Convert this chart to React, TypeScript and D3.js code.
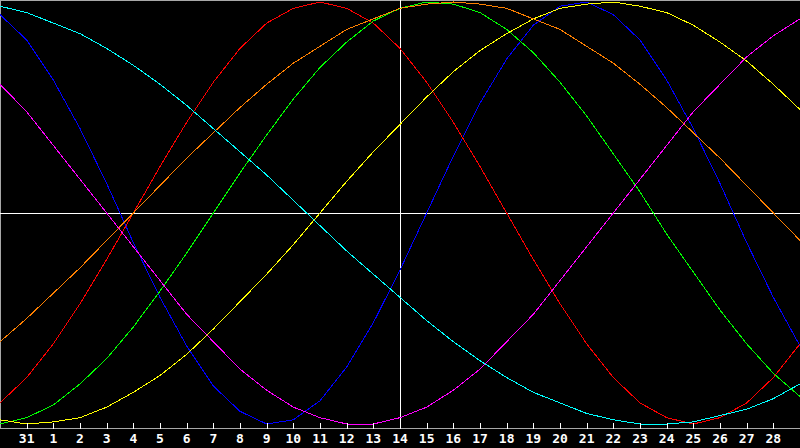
import { useEffect, useRef } from "react"
import * as d3 from "d3"

// day under each grid column (k = 0..30), today is the column at k = 15
const days = [30, 31, 1, 2, 3, 4, 5, 6, 7, 8, 9, 10, 11, 12, 13, 14, 15, 16, 17, 18, 19, 20, 21, 22, 23, 24, 25, 26, 27, 28, 29]
const todayIndex = 15

// cycle values, -1..1
const physical = [0.94, 0.82, 0.63, 0.4, 0.14, -0.14, -0.4, -0.63, -0.82, -0.94, -1.0, -0.98, -0.89, -0.73, -0.52, -0.27, 0, 0.27, 0.52, 0.73, 0.89, 0.98, 1.0, 0.94, 0.82, 0.63, 0.4, 0.14, -0.14, -0.4, -0.63]
const emotional = [-0.9, -0.78, -0.62, -0.43, -0.22, 0, 0.22, 0.43, 0.62, 0.78, 0.9, 0.97, 1.0, 0.97, 0.9, 0.78, 0.62, 0.43, 0.22, 0, -0.22, -0.43, -0.62, -0.78, -0.9, -0.97, -1.0, -0.97, -0.9, -0.78, -0.62]
const intellectual = [-1.0, -0.97, -0.91, -0.81, -0.69, -0.54, -0.37, -0.19, 0, 0.19, 0.37, 0.54, 0.69, 0.81, 0.91, 0.97, 1.0, 0.99, 0.95, 0.87, 0.76, 0.62, 0.46, 0.28, 0.1, -0.1, -0.28, -0.46, -0.62, -0.76, -0.87]
const intuitive = [0.61, 0.48, 0.32, 0.16, 0, -0.16, -0.32, -0.48, -0.61, -0.74, -0.84, -0.92, -0.97, -1.0, -1.0, -0.97, -0.92, -0.84, -0.74, -0.61, -0.48, -0.32, -0.16, 0, 0.16, 0.32, 0.48, 0.61, 0.74, 0.84, 0.92]
const aesthetic = [-0.98, -1.0, -0.99, -0.97, -0.92, -0.85, -0.77, -0.67, -0.55, -0.42, -0.29, -0.15, 0, 0.15, 0.29, 0.42, 0.55, 0.67, 0.77, 0.85, 0.92, 0.97, 0.99, 1.0, 0.98, 0.95, 0.89, 0.81, 0.72, 0.61, 0.49]
const awareness = [-0.61, -0.5, -0.38, -0.26, -0.13, 0, 0.13, 0.26, 0.38, 0.5, 0.61, 0.71, 0.79, 0.87, 0.92, 0.97, 0.99, 1.0, 0.99, 0.97, 0.92, 0.87, 0.79, 0.71, 0.61, 0.5, 0.38, 0.26, 0.13, 0, -0.13]
const spiritual = [0.98, 0.95, 0.9, 0.85, 0.78, 0.7, 0.61, 0.51, 0.4, 0.29, 0.18, 0.06, -0.06, -0.18, -0.29, -0.4, -0.51, -0.61, -0.7, -0.78, -0.85, -0.9, -0.95, -0.98, -1.0, -1.0, -0.99, -0.96, -0.93, -0.88, -0.81]

const series = [
  { name: "physical", values: physical, color: "#0000ff" },
  { name: "emotional", values: emotional, color: "#ff0000" },
  { name: "intellectual", values: intellectual, color: "#00ff00" },
  { name: "intuitive", values: intuitive, color: "#ff00ff" },
  { name: "aesthetic", values: aesthetic, color: "#ffff00" },
  { name: "awareness", values: awareness, color: "#ff8000" },
  { name: "spiritual", values: spiritual, color: "#00ffff" },
]

export default function App() {
  const svgRef = useRef<SVGSVGElement>(null)

  useEffect(() => {
    document.body.style.margin = "0"
    if (!svgRef.current) return

    const svg = d3.select(svgRef.current)
    svg.selectAll("*").remove()

    const width = 800
    const height = 448
    const axisY = 428.5

    const x = d3.scaleLinear().domain([0, days.length - 1]).range([0, width])
    const y = d3.scaleLinear().domain([-1, 1]).range([424, 2])

    svg.append("rect").attr("width", width).attr("height", height).attr("fill", "#000")

    // frame: top, left, bottom axis
    const frame = svg.append("g").attr("stroke", "#a8a8a8").attr("stroke-width", 1).attr("shape-rendering", "crispEdges")
    frame.append("line").attr("x1", 0).attr("x2", width).attr("y1", 0.5).attr("y2", 0.5)
    frame.append("line").attr("x1", 0.5).attr("x2", 0.5).attr("y1", 0).attr("y2", axisY)
    frame.append("line").attr("x1", 0).attr("x2", width).attr("y1", axisY).attr("y2", axisY)

    // zero line and today line
    svg
      .append("line")
      .attr("x1", 0)
      .attr("x2", width)
      .attr("y1", Math.round(y(0)) + 0.5)
      .attr("y2", Math.round(y(0)) + 0.5)
      .attr("stroke", "#fff")
      .attr("shape-rendering", "crispEdges")
    svg
      .append("line")
      .attr("x1", Math.round(x(todayIndex)) + 0.5)
      .attr("x2", Math.round(x(todayIndex)) + 0.5)
      .attr("y1", 0)
      .attr("y2", axisY)
      .attr("stroke", "#fff")
      .attr("shape-rendering", "crispEdges")

    // curves
    const line = d3
      .line<number>()
      .x((_, i) => x(i))
      .y((d) => y(d))

    svg
      .append("g")
      .selectAll("path")
      .data(series)
      .join("path")
      .attr("d", (d) => line(d.values))
      .attr("fill", "none")
      .attr("stroke", (d) => d.color)
      .attr("stroke-width", 1)
      .attr("shape-rendering", "crispEdges")

    // ticks and day labels
    const tickIdx = d3.range(1, days.length - 1)
    svg
      .append("g")
      .selectAll("line")
      .data(tickIdx)
      .join("line")
      .attr("x1", (i) => Math.round(x(i)) + 0.5)
      .attr("x2", (i) => Math.round(x(i)) + 0.5)
      .attr("y1", 423)
      .attr("y2", axisY)
      .attr("stroke", "#fff")
      .attr("shape-rendering", "crispEdges")

    svg
      .append("g")
      .selectAll("text")
      .data(tickIdx)
      .join("text")
      .attr("x", (i) => x(i))
      .attr("y", 443)
      .attr("text-anchor", "middle")
      .attr("fill", "#fff")
      .style("font", "bold 13px 'DejaVu Sans Mono', monospace")
      .text((i) => days[i])
  }, [])

  return <svg ref={svgRef} width={800} height={448} style={{ display: "block" }} />
}
